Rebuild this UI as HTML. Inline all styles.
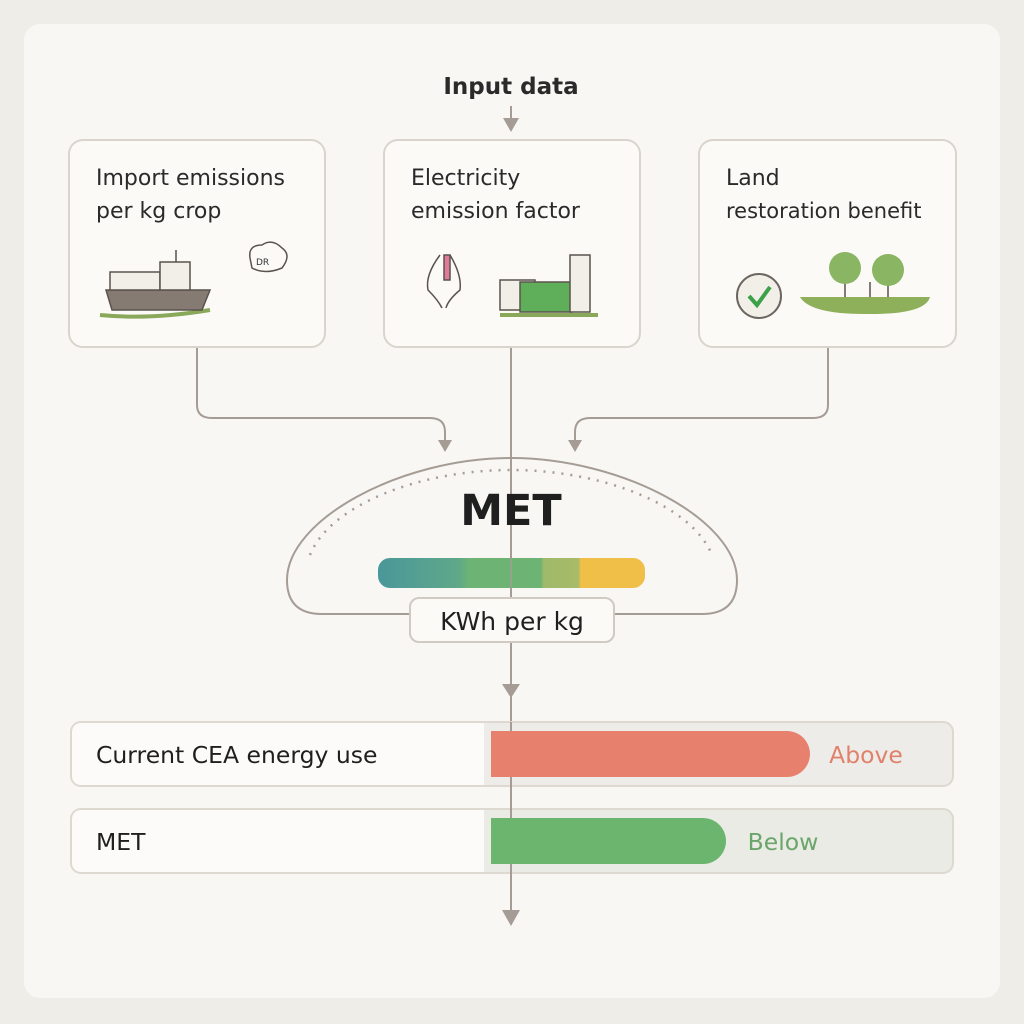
<!DOCTYPE html>
<html><head><meta charset="utf-8"><style>
html,body{margin:0;padding:0;background:#efede8;}
svg{display:block;font-family:"DejaVu Sans","Liberation Sans",sans-serif;}
</style></head><body>
<svg width="1024" height="1024" viewBox="0 0 1024 1024">
<rect x="0" y="0" width="1024" height="1024" fill="#efede8"/>
<rect x="24" y="24" width="976" height="974" rx="16" fill="#f8f7f3"/>
<text x="511" y="94" text-anchor="middle" font-size="23" font-weight="bold" fill="#2a2a2a">Input data</text>
<g stroke="#a59d95" stroke-width="2" fill="none">
<line x1="511" y1="106" x2="511" y2="124"/>
<path d="M197 347 V405 Q197 418 212 418 H430 Q445 418 445 432 V442"/>
<path d="M828 347 V405 Q828 418 813 418 H590 Q575 418 575 432 V442"/>
<line x1="511" y1="347" x2="511" y2="920"/>
<path d="M410 614 H322 Q287 614 287 580 C287 520 400 458 511 458 C622 458 737 520 737 580 Q737 614 702 614 H614"/>
<path d="M310 555 C330 505 420 470 511 470 C602 470 692 505 712 555" stroke-dasharray="2 7" stroke-width="2.5"/>
</g>
<g fill="#a59d95">
<path d="M503 118 L519 118 L511 132 Z"/>
<path d="M438 440 L452 440 L445 452 Z"/>
<path d="M568 440 L582 440 L575 452 Z"/>
<path d="M502 684 L520 684 L511 698 Z"/>
<path d="M502 910 L520 910 L511 926 Z"/>
</g>
<g fill="#fbfaf7" stroke="#d9d4cc" stroke-width="2">
<rect x="69" y="140" width="256" height="207" rx="14"/>
<rect x="384" y="140" width="256" height="207" rx="14"/>
<rect x="699" y="140" width="257" height="207" rx="14"/>
</g>
<g font-size="22" fill="#2a2a2a">
<text x="96" y="185">Import emissions</text><text x="96" y="218">per kg crop</text>
<text x="411" y="185">Electricity</text><text x="411" y="218">emission factor</text>
<text x="726" y="185">Land</text><text x="726" y="218" font-size="21">restoration benefit</text>
</g>
<g stroke="#5a534d" stroke-width="1.5">
<path d="M100 315 Q150 320 210 310" stroke="#8aa85a" stroke-width="4" fill="none"/>
<path d="M106 290 H210 L202 310 H112 Z" fill="#857b73"/>
<rect x="110" y="272" width="50" height="18" fill="#f2efe9"/>
<rect x="160" y="262" width="30" height="28" fill="#f2efe9"/>
<line x1="176" y1="262" x2="176" y2="250"/>
</g>
<path d="M250 258 Q248 245 262 245 Q272 238 282 248 Q292 255 282 268 Q265 275 252 268 Z" fill="none" stroke="#5a534d" stroke-width="1.5"/>
<text x="256" y="265" font-size="9" fill="#333">DR</text>
<g stroke="#5a534d" stroke-width="1.5" fill="none">
<path d="M440 255 Q425 275 428 290 Q438 300 442 308 M450 255 Q462 275 460 290 Q448 300 446 308"/>
<rect x="444" y="255" width="6" height="25" fill="#e07a9a"/>
<rect x="500" y="280" width="35" height="30" fill="#f2efe9"/>
<rect x="520" y="282" width="52" height="30" fill="#5fae5a"/>
<rect x="570" y="255" width="20" height="57" fill="#f2efe9"/>
<path d="M500 315 H598" stroke="#8aa85a" stroke-width="4"/>
</g>
<circle cx="759" cy="296" r="22" fill="#f2efe9" stroke="#6c6560" stroke-width="2"/>
<path d="M749 296 L757 305 L770 287" stroke="#3da14a" stroke-width="4" fill="none"/>
<path d="M800 297 H930 Q925 315 865 314 Q810 314 800 297 Z" fill="#8fb05a"/>
<g stroke="#5a534d" stroke-width="1.5"><line x1="845" y1="280" x2="845" y2="297"/><line x1="888" y1="280" x2="888" y2="297"/><line x1="870" y1="282" x2="870" y2="297"/></g>
<circle cx="845" cy="268" r="16" fill="#8ab563"/><circle cx="888" cy="270" r="16" fill="#8ab563"/>
<text x="511" y="525" text-anchor="middle" font-size="43" font-weight="bold" fill="#1f1f1f">MET</text>
<defs><linearGradient id="g" x1="0" x2="1">
<stop offset="0" stop-color="#4a979a"/><stop offset="0.3" stop-color="#5fa88a"/><stop offset="0.34" stop-color="#6cb374"/><stop offset="0.61" stop-color="#6cb374"/><stop offset="0.62" stop-color="#9fb96a"/><stop offset="0.75" stop-color="#a8bb68"/><stop offset="0.76" stop-color="#f0bf48"/><stop offset="1" stop-color="#f0bf48"/>
</linearGradient></defs>
<rect x="378" y="558" width="267" height="30" rx="12" fill="url(#g)"/>
<line x1="511" y1="545" x2="511" y2="598" stroke="#a59d95" stroke-width="1.5"/>
<rect x="410" y="598" width="204" height="44" rx="9" fill="#fbfaf7" stroke="#d0cac2" stroke-width="2"/>
<text x="512" y="630" text-anchor="middle" font-size="25" fill="#1f1f1f">KWh per kg</text>
<g stroke="#ddd8d0" stroke-width="2">
<rect x="71" y="722" width="882" height="64" rx="10" fill="#eeece8"/>
<rect x="71" y="809" width="882" height="64" rx="10" fill="#e9ebe4"/>
</g>
<path d="M82 723 H484 V785 H82 Q72 785 72 775 V733 Q72 723 82 723Z" fill="#fcfbf9"/>
<path d="M82 810 H484 V872 H82 Q72 872 72 862 V820 Q72 810 82 810Z" fill="#fcfbf9"/>
<line x1="511" y1="722" x2="511" y2="920" stroke="#a59d95" stroke-width="2"/>
<path d="M491 731 H787 A23 23 0 0 1 787 777 H491 Z" fill="#e8806e"/>
<path d="M491 818 H703 A23 23 0 0 1 703 864 H491 Z" fill="#6cb56f"/>
<text x="96" y="763" font-size="23.5" fill="#1f1f1f">Current CEA energy use</text>
<text x="96" y="850" font-size="23.5" fill="#1f1f1f">MET</text>
<text x="866" y="763" text-anchor="middle" font-size="23.5" fill="#e0826b">Above</text>
<text x="783" y="850" text-anchor="middle" font-size="23.5" fill="#6aa56a">Below</text>
</svg>
</body></html>
